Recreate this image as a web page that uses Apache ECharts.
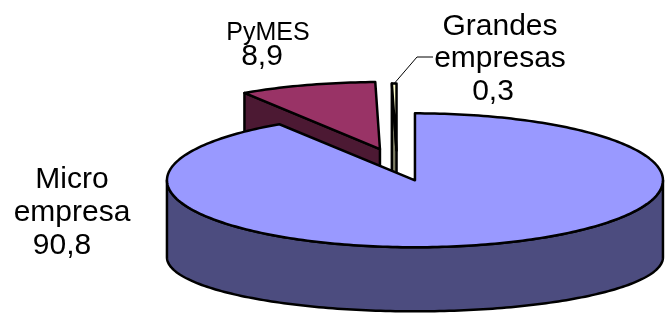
<!DOCTYPE html>
<html>
<head>
<meta charset="utf-8">
<script src="https://cdn.jsdelivr.net/npm/echarts@6/dist/echarts.min.js"></script>
<style>
  html, body { margin: 0; padding: 0; background: #fff; }
  #chart { width: 665px; height: 313px; }
</style>
</head>
<body>
<div id="chart"></div>
<script>
// data
const categories = ['Micro empresa', 'PyMES', 'Grandes empresas'];
const shares = [90.8, 8.9, 0.3];

// look
const topColors = ['#9999FF', '#993366', '#FFFFCC'];
const sideColors = ['#4C4C7F', '#4C1933', '#7F7F66'];
const explode = [63, 58, 50];
// 3D pie geometry (top ellipse squash, bottom ellipse squash, wall height)
const pie = { cx: 397, cy: 164, r: 248, kTop: 0.27, kBot: 0.218, depth: 77 };
// label anchors; numPad nudges the value line left like the original
const labelPos = [
  { x: 72, y: 213, lh: 33, numPad: 20 },
  { x: 268, y: 46, numPad: 12 },
  { x: 500, y: 59, lh: 32.5, numPad: 14, leader: [[417, 57], [433, 57]] }
];

const total = shares.reduce((a, b) => a + b, 0);
const slices = [];
let acc = 0;
shares.forEach((v, i) => {
  const a0 = acc / total * Math.PI * 2;
  acc += v;
  const a1 = acc / total * Math.PI * 2;
  slices.push({ a0, a1, mid: (a0 + a1) / 2 });
});

function center(i) {
  const s = slices[i], e = explode[i];
  return [pie.cx + e * Math.sin(s.mid), pie.cy - e * pie.kTop * Math.cos(s.mid)];
}
function topPt(c, t) {
  return [c[0] + pie.r * Math.sin(t), c[1] - pie.r * pie.kTop * Math.cos(t)];
}
function botPt(c, t) {
  return [c[0] + pie.r * Math.sin(t), c[1] + pie.depth - pie.r * pie.kBot * Math.cos(t)];
}
function arc(fn, c, t0, t1) {
  const n = Math.max(2, Math.ceil(Math.abs(t1 - t0) / 0.02));
  const pts = [];
  for (let k = 0; k <= n; k++) pts.push(fn(c, t0 + (t1 - t0) * k / n));
  return pts;
}
function fmt(v) { return String(v).replace('.', ','); }

function renderItem(params, api) {
  const i = params.dataIndex;
  const s = slices[i];
  const c = center(i);
  const base = Math.round((1 - Math.cos(s.mid)) * 100) * 10;
  const line = { stroke: '#000', lineWidth: 2.5, lineJoin: 'round' };
  const kids = [];
  const cb = [c[0], c[1] + pie.depth];

  // radial cut faces
  if (Math.sin(s.a0) < -1e-6) {
    kids.push({ type: 'polygon', z2: base + 1,
      shape: { points: [c, topPt(c, s.a0), botPt(c, s.a0), cb] },
      style: Object.assign({ fill: sideColors[i] }, line) });
  }
  if (Math.sin(s.a1) > 1e-6) {
    kids.push({ type: 'polygon', z2: base + 1,
      shape: { points: [c, topPt(c, s.a1), botPt(c, s.a1), cb] },
      style: Object.assign({ fill: sideColors[i] }, line) });
  }
  // outer wall, front half only
  const w0 = Math.max(s.a0, Math.PI / 2), w1 = Math.min(s.a1, Math.PI * 1.5);
  if (w1 > w0) {
    const pts = arc(topPt, c, w0, w1).concat(arc(botPt, c, w1, w0));
    kids.push({ type: 'polygon', z2: base + 2,
      shape: { points: pts },
      style: Object.assign({ fill: sideColors[i] }, line) });
  }
  // top face
  kids.push({ type: 'polygon', z2: base + 3,
    shape: { points: [c].concat(arc(topPt, c, s.a0, s.a1)) },
    style: Object.assign({ fill: topColors[i] }, line) });

  // label
  const lp = labelPos[i];
  const font = { fontFamily: 'Liberation Sans, Arial, sans-serif', fill: '#000', align: 'center', verticalAlign: 'middle' };
  const numStyle = { fontSize: 30, padding: [0, lp.numPad, 0, 0] };
  if (i === 1) {
    kids.push({ type: 'text', x: lp.x, y: lp.y, z2: 5000,
      style: Object.assign({
        text: '{n|' + categories[i] + '}\n{v|' + fmt(shares[i]) + '}',
        rich: { n: { fontSize: 25, lineHeight: 22 }, v: Object.assign({ lineHeight: 25 }, numStyle) }
      }, font) });
  } else {
    const words = categories[i].split(' ').map(w => '{n|' + w + '}');
    kids.push({ type: 'text', x: lp.x, y: lp.y, z2: 5000,
      style: Object.assign({
        text: words.join('\n') + '\n{v|' + fmt(shares[i]) + '}',
        rich: { n: { fontSize: 30, lineHeight: lp.lh }, v: Object.assign({ lineHeight: lp.lh }, numStyle) }
      }, font) });
  }
  if (lp.leader) {
    kids.push({ type: 'polyline', z2: 5000,
      shape: { points: [topPt(c, s.mid)].concat(lp.leader) },
      style: { stroke: '#000', lineWidth: 1, fill: null } });
  }
  return { type: 'group', children: kids };
}

const chart = echarts.init(document.getElementById('chart'));
chart.setOption({
  animation: false,
  series: [{
    type: 'custom',
    coordinateSystem: 'none',
    silent: true,
    renderItem: renderItem,
    data: shares.map((v, i) => ({ name: categories[i], value: v }))
  }]
});
</script>
</body>
</html>
